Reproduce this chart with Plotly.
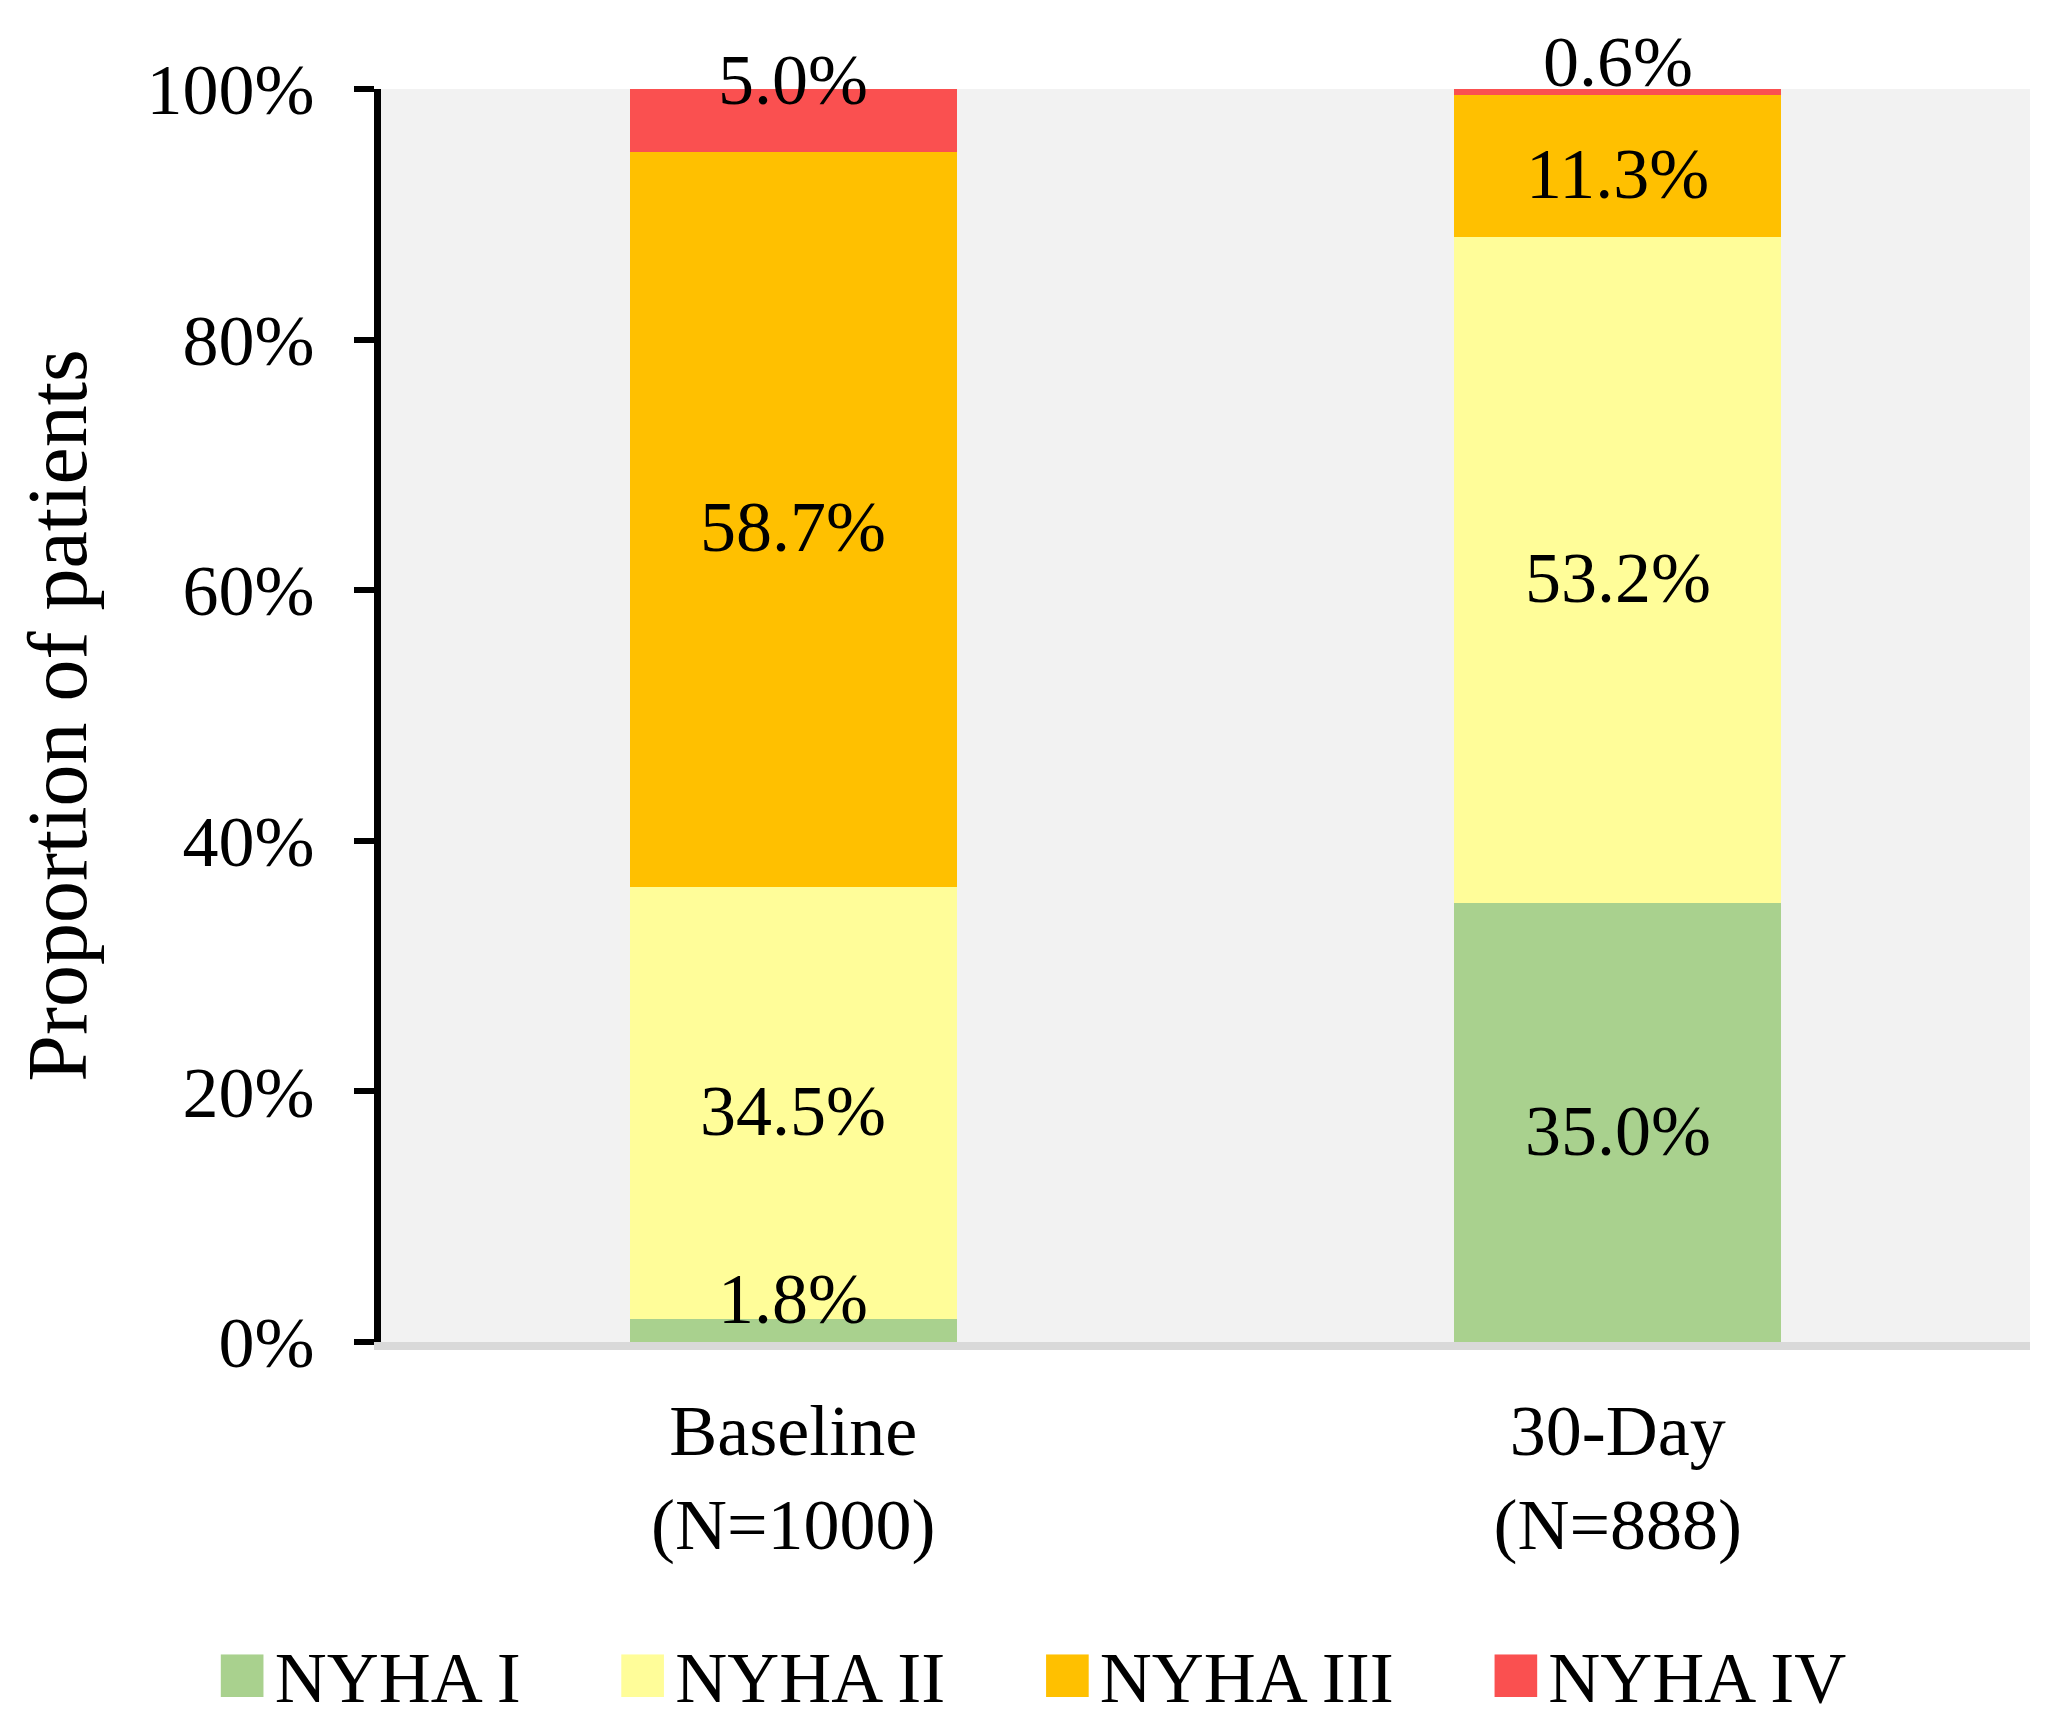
import plotly.graph_objects as go

# ---- data ----
categories = ["Baseline<br>(N=1000)", "30-Day<br>(N=888)"]
series_names = ["NYHA I", "NYHA II", "NYHA III", "NYHA IV"]
nyha_i = [1.8, 35.0]
nyha_ii = [34.5, 53.2]
nyha_iii = [58.7, 11.3]
nyha_iv = [5.0, 0.6]
y_tick_values = [0, 20, 40, 60, 80, 100]
y_tick_labels = ["0%", "20%", "40%", "60%", "80%", "100%"]

# ---- style ----
colors = ["#A9D18E", "#FFFD99", "#FFC000", "#FA5050"]
FONT = "Liberation Serif, Times New Roman, serif"
FS = 72
# pixel offsets for labels of thin segments (anchored at the segment's base)
small_label_shift = {(0, 0): 43, (3, 0): 72, (3, 1): 33}
center_label_shift = -8

series_values = [nyha_i, nyha_ii, nyha_iii, nyha_iv]

fig = go.Figure()
for name, vals, col in zip(series_names, series_values, colors):
    fig.add_trace(go.Bar(x=categories, y=vals, name=name, marker=dict(color=col, line=dict(width=0)),
                         showlegend=False, hoverinfo="skip"))

# legend entries (large colored squares)
for name, col in zip(series_names, colors):
    fig.add_trace(go.Scatter(x=[None], y=[None], mode="markers",
                             marker=dict(color="rgba(0,0,0,0)", size=1),
                             name=f'<span style="color:{col};font-size:88px">\u25A0</span>\u200a{name}'
                                  + "\u00a0\u00a0\u2009",
                             showlegend=True))

# data labels
annotations = []
for si, vals in enumerate(series_values):
    for ci, cat in enumerate(categories):
        base = sum(series_values[k][ci] for k in range(si))
        v = vals[ci]
        if (si, ci) in small_label_shift:
            y = base
            shift = small_label_shift[(si, ci)]
        else:
            y = base + v / 2
            shift = center_label_shift
        annotations.append(dict(x=cat, y=y, xref="x", yref="y", text=f"{v:.1f}%", showarrow=False,
                                yanchor="middle", yshift=shift,
                                font=dict(family=FONT, size=FS, color="black")))

fig.update_layout(
    width=2037, height=1720,
    barmode="stack", bargap=0.603,
    paper_bgcolor="white", plot_bgcolor="#F2F2F2",
    margin=dict(l=373, r=15, t=81, b=386, autoexpand=False),
    font=dict(family=FONT, size=FS, color="black"),
    annotations=annotations,
    legend=dict(orientation="h", x=-0.1246, xanchor="left", y=-0.265, yanchor="middle",
                traceorder="normal",
                font=dict(family=FONT, size=FS, color="black"), bgcolor="rgba(0,0,0,0)",
                itemwidth=30, borderwidth=0),
    xaxis=dict(range=[-0.5, 1.5], showline=True, linecolor="#D9D9D9", linewidth=8,
               ticks="", showgrid=False, zeroline=False, ticklabelstandoff=19,
               tickfont=dict(family=FONT, size=FS, color="black")),
    yaxis=dict(range=[0, 100], tickvals=y_tick_values, ticktext=y_tick_labels,
               showline=True, linecolor="black", linewidth=7,
               ticks="outside", ticklen=20, tickwidth=6, tickcolor="black",
               showgrid=False, zeroline=False, ticklabelstandoff=25,
               tickfont=dict(family=FONT, size=FS, color="black"),
               title=dict(text="Proportion of patients", standoff=35,
                          font=dict(family=FONT, size=84, color="black"))),
)

fig.write_html("out.html")
